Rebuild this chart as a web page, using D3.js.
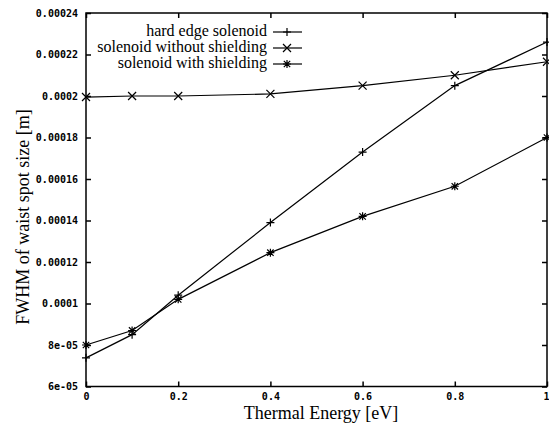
<!DOCTYPE html>
<html>
<head>
<meta charset="utf-8">
<script src="https://cdn.jsdelivr.net/npm/d3@7"></script>
<style>
  body { margin: 0; background: #fff; }
  svg { display: block; }
</style>
</head>
<body>
<svg id="chart" width="549" height="427"></svg>
<script>
var energy = [0, 0.1, 0.2, 0.4, 0.6, 0.8, 1.0];
var hardEdge = [7.38e-5, 8.5e-5, 1.04e-4, 1.39e-4, 1.73e-4, 2.05e-4, 2.26e-4];
var noShield = [1.995e-4, 2.0e-4, 2.0e-4, 2.01e-4, 2.05e-4, 2.1e-4, 2.165e-4];
var withShield = [8.0e-5, 8.7e-5, 1.02e-4, 1.245e-4, 1.42e-4, 1.565e-4, 1.8e-4];
var seriesNames = ['hard edge solenoid', 'solenoid without shielding', 'solenoid with shielding'];
var xTicks = [0, 0.2, 0.4, 0.6, 0.8, 1];
var xTickLabels = ['0', '0.2', '0.4', '0.6', '0.8', '1'];
var yTicks = [6e-5, 8e-5, 1e-4, 1.2e-4, 1.4e-4, 1.6e-4, 1.8e-4, 2e-4, 2.2e-4, 2.4e-4];
var yTickLabels = ['6e-05', '8e-05', '0.0001', '0.00012', '0.00014', '0.00016', '0.00018', '0.0002', '0.00022', '0.00024'];

var plotLeft = 86, plotRight = 547, plotTop = 13, plotBottom = 386.5;
var svg = d3.select('#chart');

var x = d3.scaleLinear().domain([0, 1]).range([plotLeft, plotRight]);
var y = d3.scaleLinear().domain([6e-5, 2.4e-4]).range([plotBottom, plotTop]);

var tickFont = '"DejaVu Sans Mono", monospace';
var serif = '"Liberation Serif", "DejaVu Serif", serif';

// axes, ticks pointing inward like gnuplot
var xAxisB = d3.axisBottom(x).tickValues(xTicks).tickSizeInner(-5).tickSizeOuter(0)
    .tickPadding(6).tickFormat(function(d, i) { return xTickLabels[i]; });
var xAxisT = d3.axisTop(x).tickValues(xTicks).tickSizeInner(-5).tickSizeOuter(0).tickFormat('');
var yAxisL = d3.axisLeft(y).tickValues(yTicks).tickSizeInner(-5).tickSizeOuter(0)
    .tickPadding(8).tickFormat(function(d, i) { return yTickLabels[i]; });
var yAxisR = d3.axisRight(y).tickValues(yTicks).tickSizeInner(-5).tickSizeOuter(0).tickFormat('');

function styleAxis(g) {
  g.select('.domain').remove();
  g.selectAll('line').attr('stroke', '#000').attr('stroke-width', 1.5);
  g.selectAll('text').attr('fill', '#000')
      .attr('font-family', tickFont).attr('font-weight', 'bold').attr('font-size', 10);
}

var gx = svg.append('g').attr('transform', 'translate(0,' + plotBottom + ')').call(xAxisB).call(styleAxis);
// last label sits on the window edge
gx.selectAll('.tick text').filter(function(d) { return d === 1; }).attr('text-anchor', 'end').attr('dx', 2);
svg.append('g').attr('transform', 'translate(0,' + plotTop + ')').call(xAxisT).call(styleAxis);
svg.append('g').attr('transform', 'translate(' + plotLeft + ',0)').call(yAxisL).call(styleAxis);
svg.append('g').attr('transform', 'translate(' + plotRight + ',0)').call(yAxisR).call(styleAxis);

svg.append('rect')
    .attr('x', plotLeft).attr('y', plotTop)
    .attr('width', plotRight - plotLeft).attr('height', plotBottom - plotTop)
    .attr('fill', 'none').attr('stroke', '#000').attr('stroke-width', 1.5);

// markers
function plus(s) { return 'M' + (-s) + ',0H' + s + 'M0,' + (-s) + 'V' + s; }
function cross(s) { return 'M' + (-s) + ',' + (-s) + 'L' + s + ',' + s + 'M' + (-s) + ',' + s + 'L' + s + ',' + (-s); }
function star(s) { return plus(s) + cross(s * 0.8); }
var markers = [plus, cross, star];
var seriesData = [hardEdge, noShield, withShield];

var line = d3.line().x(function(d) { return x(d[0]); }).y(function(d) { return y(d[1]); });

seriesData.forEach(function(vals, k) {
  var pts = energy.map(function(e, i) { return [e, vals[i]]; });
  svg.append('path').datum(pts).attr('d', line)
      .attr('fill', 'none').attr('stroke', '#000').attr('stroke-width', 1.2);
  svg.append('g').selectAll('path').data(pts).enter().append('path')
      .attr('transform', function(d) { return 'translate(' + x(d[0]) + ',' + y(d[1]) + ')'; })
      .attr('d', markers[k](4))
      .attr('fill', 'none').attr('stroke', '#000').attr('stroke-width', 1.2);
});

// legend
var legendY = [32, 48, 64];
seriesNames.forEach(function(name, k) {
  svg.append('text')
      .attr('x', 267).attr('y', legendY[k])
      .attr('dominant-baseline', 'middle')
      .attr('text-anchor', 'end')
      .attr('font-family', serif).attr('font-size', 16)
      .text(name);
  svg.append('line')
      .attr('x1', 273).attr('x2', 302).attr('y1', legendY[k]).attr('y2', legendY[k])
      .attr('stroke', '#000').attr('stroke-width', 1.2);
  svg.append('path')
      .attr('transform', 'translate(287,' + legendY[k] + ')')
      .attr('d', markers[k](4))
      .attr('fill', 'none').attr('stroke', '#000').attr('stroke-width', 1.2);
});

// axis titles
svg.append('text')
    .attr('x', 321).attr('y', 419)
    .attr('text-anchor', 'middle')
    .attr('font-family', serif).attr('font-size', 18)
    .text('Thermal Energy [eV]');

svg.append('text')
    .attr('transform', 'translate(29,217) rotate(-90)')
    .attr('text-anchor', 'middle')
    .attr('font-family', serif).attr('font-size', 18)
    .text('FWHM of waist spot size [m]');
</script>
</body>
</html>
